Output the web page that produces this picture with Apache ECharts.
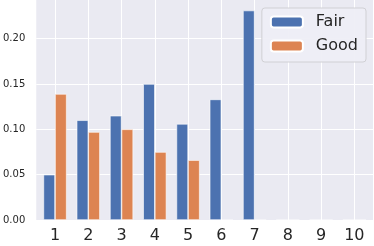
<!DOCTYPE html>
<html>
<head>
<meta charset="utf-8">
<script src="https://cdn.jsdelivr.net/npm/echarts@6/dist/echarts.min.js"></script>
<style>
html,body{margin:0;padding:0;background:#fff;}
#chart{width:374px;height:246px;}
</style>
</head>
<body>
<div id="chart"></div>
<script>
const categories = ['1','2','3','4','5','6','7','8','9','10'];
const fair = [0.050, 0.110, 0.115, 0.150, 0.106, 0.133, 0.231, 0, 0, 0];
const good = [0.139, 0.097, 0.100, 0.075, 0.066, 0, 0, 0, 0, 0];
const yMin = 0;
const yMax = 0.2426;
const yStep = 0.05;

const FONT = 'DejaVu Sans';
const TXT = '#262626';
const chart = echarts.init(document.getElementById('chart'), null, {renderer: 'canvas'});
chart.setOption({
  animation: false,
  backgroundColor: '#ffffff',
  grid: [
    {left: 35, right: 1, top: 0, bottom: 26, show: true, backgroundColor: '#EAEAF2', borderWidth: 0, containLabel: false},
    {left: 38.4, right: 3, top: 0, bottom: 26, containLabel: false}
  ],
  legend: {
    right: 8, top: 8, orient: 'vertical',
    itemWidth: 32, itemHeight: 11, itemGap: 8,
    padding: [6, 8, 8, 8],
    backgroundColor: 'rgba(238,238,245,0.95)',
    borderColor: '#d0d0d4', borderWidth: 1, borderRadius: 3,
    textStyle: {fontFamily: FONT, fontSize: 16, color: TXT, padding: [0, 0, 0, 8]},
    data: ['Fair', 'Good']
  },
  xAxis: [
    {gridIndex: 0, type: 'value', min: 0, max: 1, show: false},
    {gridIndex: 1, type: 'category', data: categories,
     axisLine: {show: false}, axisTick: {show: false},
     axisLabel: {fontFamily: FONT, fontSize: 16, color: TXT, margin: 8},
     splitLine: {show: true, alignWithLabel: true, lineStyle: {color: '#ffffff', width: 1}}}
  ],
  yAxis: [
    {gridIndex: 0, type: 'value', min: yMin, max: yMax, interval: yStep,
     axisLine: {show: false}, axisTick: {show: false},
     axisLabel: {fontFamily: FONT, fontSize: 10, color: TXT, margin: 11, showMaxLabel: false,
                 formatter: v => v.toFixed(2)},
     splitLine: {show: true, showMaxLine: false, lineStyle: {color: '#ffffff', width: 1}}},
    {gridIndex: 1, type: 'value', min: yMin, max: yMax, show: false, splitLine: {show: false}}
  ],
  series: [
    {name: 'Fair', type: 'bar', xAxisIndex: 1, yAxisIndex: 1, data: fair,
     barWidth: 11.6, barGap: '0%',
     itemStyle: {color: '#4C72B0', borderColor: '#ffffff', borderWidth: 0.6}},
    {name: 'Good', type: 'bar', xAxisIndex: 1, yAxisIndex: 1, data: good,
     barWidth: 11.6, barGap: '0%',
     itemStyle: {color: '#DD8452', borderColor: '#ffffff', borderWidth: 0.6}}
  ]
});
</script>
</body>
</html>
